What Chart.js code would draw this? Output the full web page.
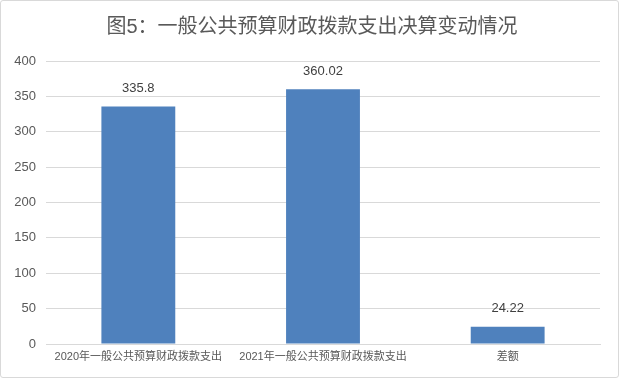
<!DOCTYPE html>
<html>
<head>
<meta charset="utf-8">
<script src="https://cdn.jsdelivr.net/npm/chart.js@4/dist/chart.umd.min.js"></script>
<style>
  html, body { margin: 0; padding: 0; background: #fff; }
  .box { width: 619px; height: 378px; box-sizing: border-box; border: 1px solid #d9d9d9; border-radius: 3px; position: relative; }
  canvas { display: block; }
</style>
</head>
<body>
<div class="box"><canvas id="chart" width="617" height="376"></canvas></div>
<script>
const categories = ['2020年一般公共预算财政拨款支出', '2021年一般公共预算财政拨款支出', '差额'];
const values = [335.8, 360.02, 24.22];
const valueLabels = ['335.8', '360.02', '24.22'];
const titleText = '图5：一般公共预算财政拨款支出决算变动情况';

const fontFam = '"Liberation Sans", "Noto Sans CJK SC", sans-serif';

// value above each bar + the title (the title sits a bit right of the canvas middle)
const extras = {
  id: 'extras',
  afterDatasetsDraw(chart) {
    const ctx = chart.ctx;
    const meta = chart.getDatasetMeta(0);
    ctx.save();
    ctx.font = '13px ' + fontFam;
    ctx.fillStyle = '#404040';
    ctx.textAlign = 'center';
    ctx.textBaseline = 'middle';
    meta.data.forEach((bar, i) => {
      ctx.fillText(valueLabels[i], bar.x, bar.y - 18);
    });

    ctx.font = '20px ' + fontFam;
    ctx.fillStyle = '#595959';
    ctx.fillText(titleText, 311, 26);
    ctx.restore();
  }
};

new Chart(document.getElementById('chart').getContext('2d'), {
  type: 'bar',
  data: {
    labels: categories,
    datasets: [{
      data: values,
      backgroundColor: '#4f81bd',
      categoryPercentage: 1,
      barPercentage: 0.4
    }]
  },
  options: {
    responsive: false,
    animation: false,
    layout: { padding: { left: 0, right: 18, top: 60, bottom: 0 } },
    plugins: {
      legend: { display: false },
      tooltip: { enabled: false },
      title: { display: false }
    },
    scales: {
      x: {
        grid: { display: false, drawTicks: false },
        border: { color: '#d9d9d9' },
        ticks: {
          color: '#595959',
          font: { size: 11, family: fontFam },
          maxRotation: 0,
          autoSkip: false,
          padding: 6
        },
        afterFit(scale) { scale.height = 33; }
      },
      y: {
        min: 0,
        max: 400,
        ticks: {
          stepSize: 50,
          color: '#595959',
          font: { size: 13, family: fontFam },
          padding: 10
        },
        grid: { color: '#d9d9d9', drawTicks: false },
        border: { display: false },
        afterFit(scale) { scale.width = 45; }
      }
    }
  },
  plugins: [extras]
});
</script>
</body>
</html>
